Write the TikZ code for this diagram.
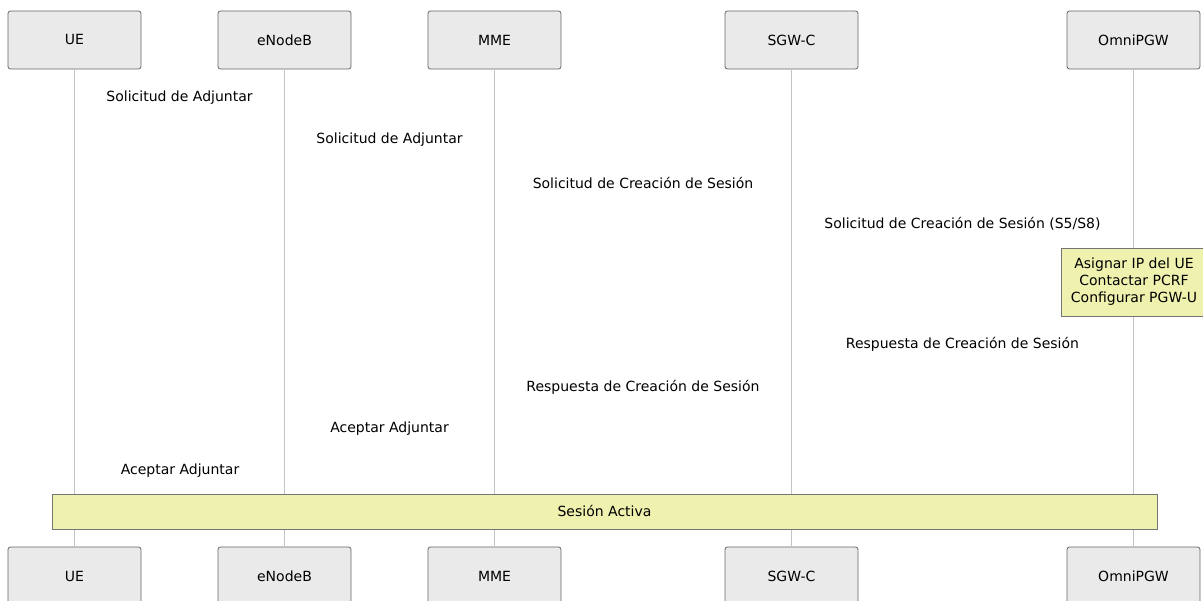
\documentclass[tikz,border=0pt]{standalone}
\usepackage{fontspec}
\setmainfont{DejaVu Sans}
\usepackage{tikz}
\usetikzlibrary{positioning}

\definecolor{actorfill}{HTML}{EAEAEA}
\definecolor{actorline}{HTML}{666666}
\definecolor{notefill}{HTML}{EEF2AE}
\definecolor{lifegray}{HTML}{C4C4C4}

\begin{document}
\begin{tikzpicture}[
  x=1pt, y=-1pt,
  every node/.style={align=center, font=\fontsize{14}{17}\selectfont},
  actor/.style={rectangle, rounded corners=2.5pt, draw=actorline, line width=0.8pt, minimum width=133pt, minimum height=58pt, fill=actorfill},
  note/.style={rectangle, draw=actorline!90, line width=0.8pt, fill=notefill, inner sep=3pt},
  lifeline/.style={draw=lifegray, line width=1.2pt},
  msg/.style={inner sep=1pt, yshift=-2pt}
]
\useasboundingbox (0,0) rectangle (1203,601);

% --- PARTICIPANTS (top) ---
\node[actor] (ue) at (74.5,40) {UE};
\node[actor] (enb) at (284.5,40) {eNodeB};
\node[actor] (mme) at (494.5,40) {MME};
\node[actor] (sgw) at (791.5,40) {SGW-C};
\node[actor] (pgw) at (1133.5,40) {OmniPGW};

% --- PARTICIPANTS (bottom) ---
\node[actor] (ueb) at (74.5,576) {UE};
\node[actor] (enbb) at (284.5,576) {eNodeB};
\node[actor] (mmeb) at (494.5,576) {MME};
\node[actor] (sgwb) at (791.5,576) {SGW-C};
\node[actor] (pgwb) at (1133.5,576) {OmniPGW};

% --- LIFELINES ---
\draw[lifeline] (ue) -- (ueb);
\draw[lifeline] (enb) -- (enbb);
\draw[lifeline] (mme) -- (mmeb);
\draw[lifeline] (sgw) -- (sgwb);
\draw[lifeline] (pgw) -- (pgwb);

% --- ATTACH REQUEST ---
\node[msg] (req1) at (179.5,96) {Solicitud de Adjuntar};
\node[msg] (req2) at (389.5,138) {Solicitud de Adjuntar};
\node[msg] (csr1) at (643,181) {Solicitud de Creación de Sesión};
\node[msg] (csr2) at (962.5,222) {Solicitud de Creación de Sesión (S5/S8)};

% --- PGW NOTE ---
\node[note, minimum width=146pt, minimum height=68pt] (pgwnote) at (1134,282)
  {\raisebox{-2pt}{\begin{tabular}{@{}c@{}}Asignar IP del UE\\Contactar PCRF\\Configurar PGW-U\end{tabular}}};

% --- RESPONSES ---
\node[msg] (csa1) at (962.5,342) {Respuesta de Creación de Sesión};
\node[msg] (csa2) at (643,385) {Respuesta de Creación de Sesión};
\node[msg] (acc1) at (389.5,427) {Aceptar Adjuntar};
\node[msg] (acc2) at (180,469) {Aceptar Adjuntar};

% --- ACTIVE SESSION ---
\node[note, minimum width=1105pt, minimum height=35pt] (activa) at (604.5,511.5) {Sesión Activa};

\end{tikzpicture}
\end{document}
